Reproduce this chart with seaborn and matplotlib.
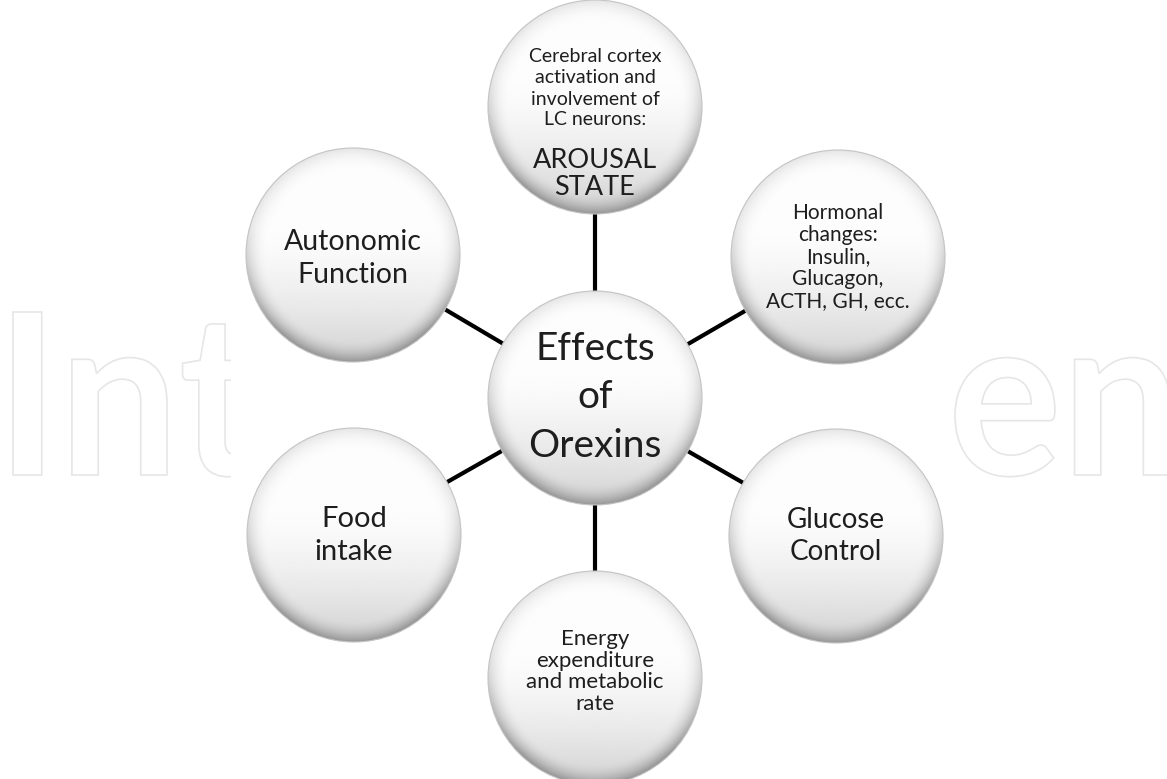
import numpy as np
import pandas as pd
import seaborn as sns
import matplotlib
matplotlib.use("Agg")
import matplotlib.pyplot as plt
from matplotlib.patches import Circle, PathPatch, Rectangle
from matplotlib.textpath import TextPath
from matplotlib.font_manager import FontProperties
from matplotlib.transforms import Affine2D

# ---------------- content ----------------
center_label = ["Effects", "of", "Orexins"]
node_labels = [
    ["Cerebral cortex", "activation and", "involvement of", "LC neurons:", "AROUSAL", "STATE"],
    ["Hormonal", "changes:", "Insulin,", "Glucagon,", "ACTH, GH, ecc."],
    ["Glucose", "Control"],
    ["Energy", "expenditure", "and metabolic", "rate"],
    ["Food", "intake"],
    ["Autonomic", "Function"],
]
watermark = "IntechOpen"

# ---------------- layout (pixels) ----------------
W, H = 1167, 779
center_xy = (595, 398)
node_xy = [(595, 107), (838, 257), (836, 536), (595, 678), (354, 535), (353, 255)]
R = 107
# per-line font sizes (pt) and baseline offsets from circle centre (px)
node_sizes = [
    [14, 14, 14, 14, 19.5, 19.5],
    [15, 15, 15, 15, 15],
    [20, 20],
    [16, 16, 16, 16],
    [21, 21],
    [20.5, 20.5],
]
node_baselines = [
    [-45, -24, -2, 18, 61, 88],
    [-38, -16, 6, 28, 50],
    [-8, 24],
    [-33, -11, 10, 32],
    [-8, 25],
    [-5, 28],
]
center_size = 28
center_baselines = [-38, 10, 59]

FONT = "Lato"
TEXT_COLOR = "#1e1e1e"

sns.set_theme(style="white")
plt.rcParams["font.family"] = [FONT, "DejaVu Sans"]

fig = plt.figure(figsize=(W / 100, H / 100), dpi=100)
ax = fig.add_axes([0, 0, 1, 1])

# ---------------- watermark ----------------
fp = FontProperties(family=FONT, weight="bold")
capI = TextPath((0, 0), "I", size=100, prop=fp).get_extents()
base_y, cap_top = 475, 312
sy = (base_y - cap_top) / capI.y1
ext_in = TextPath((0, 0), watermark[:2], size=100, prop=fp).get_extents()
sx = (167 - 13) / (ext_in.x1 - ext_in.x0)

left_part = TextPath((0, 0), watermark[:3], size=100, prop=fp)
ext_l = left_part.get_extents()
tr_l = Affine2D().translate(-ext_l.x0, 0).scale(sx, -sy).translate(13, base_y)
right_part = TextPath((0, 0), watermark[-2:], size=100, prop=fp)
ext_r = right_part.get_extents()
tr_r = Affine2D().translate(-ext_r.x0, 0).scale(sx, -sy).translate(955, base_y)
for p, t in ((left_part, tr_l), (right_part, tr_r)):
    ax.add_patch(PathPatch(t.transform_path(p), facecolor="white", edgecolor="#e6e6e6",
                           lw=1.2, zorder=0))
# white backdrop of the diagram hides the middle of the watermark
ax.add_patch(Rectangle((231, 0), 951 - 231, H, facecolor="white", edgecolor="none", zorder=0.5))

# ---------------- connectors (seaborn lines) ----------------
for (nx, ny) in node_xy:
    df = pd.DataFrame({"x": [center_xy[0], nx], "y": [center_xy[1], ny]})
    sns.lineplot(data=df, x="x", y="y", sort=False, estimator=None, color="black",
                 lw=3.0, ax=ax, zorder=1, legend=False)

# ---------------- shaded circles ----------------
n = 300
u = np.linspace(-1, 1, n)
U, V = np.meshgrid(u, u)  # V: -1 top, +1 bottom
Rr = np.sqrt(U ** 2 + V ** 2)
base = 0.99 - 0.17 * np.clip((V + 0.25) / 1.25, 0, 1) ** 1.5
side = 0.30 + 0.70 * np.clip((V + 0.3) / 1.0, 0, 1) * np.clip(1.25 - 0.6 * np.abs(V) ** 3, 0, 1)
rim = 0.30 * np.clip((Rr - 0.80) / 0.20, 0, 1) ** 2.0 * side
shade = np.clip(base - rim, 0, 1)


def draw_node(cx, cy):
    im = ax.imshow(shade, cmap="gray", vmin=0, vmax=1, origin="upper",
                   extent=(cx - R, cx + R, cy + R, cy - R), zorder=2,
                   interpolation="bilinear")
    clip = Circle((cx, cy), R, transform=ax.transData)
    im.set_clip_path(clip)
    ax.add_patch(Circle((cx, cy), R, facecolor="none", edgecolor="#c4c4c4", lw=0.8, zorder=3))


draw_node(*center_xy)
for (nx, ny) in node_xy:
    draw_node(nx, ny)

ax.set_xlim(0, W)
ax.set_ylim(H, 0)
ax.set_aspect("equal")
ax.axis("off")

# ---------------- text ----------------
for line, b in zip(center_label, center_baselines):
    ax.text(center_xy[0], center_xy[1] + b, line, ha="center", va="baseline",
            fontsize=center_size, color=TEXT_COLOR, zorder=4)

for (nx, ny), lines, sizes, bls in zip(node_xy, node_labels, node_sizes, node_baselines):
    for line, s, b in zip(lines, sizes, bls):
        ax.text(nx, ny + b, line, ha="center", va="baseline", fontsize=s,
                color=TEXT_COLOR, zorder=4)

fig.savefig("out.png", dpi=100, facecolor="white")
